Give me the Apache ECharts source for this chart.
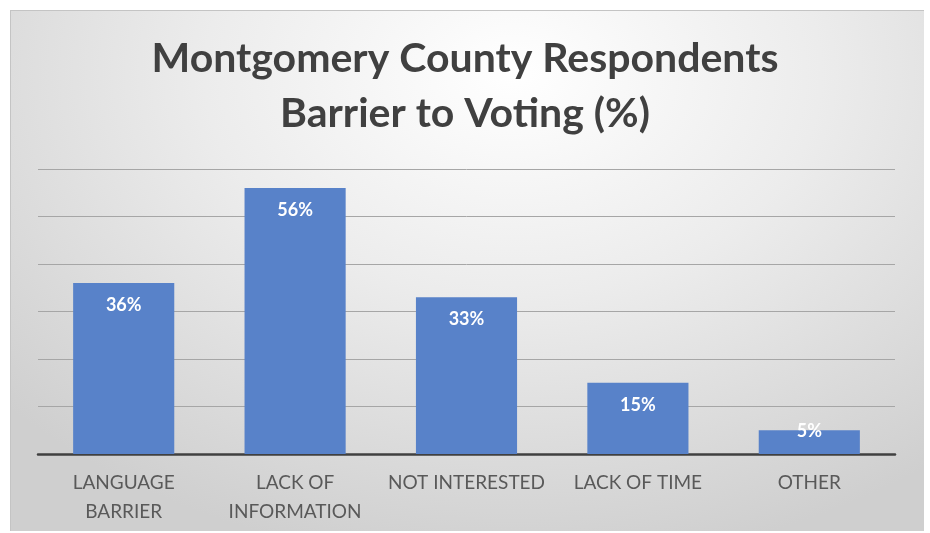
<!DOCTYPE html>
<html>
<head>
<meta charset="utf-8">
<script src="https://cdn.jsdelivr.net/npm/echarts@6/dist/echarts.min.js"></script>
<style>
html,body{margin:0;padding:0;background:#ffffff;width:930px;height:533px;overflow:hidden;}
#panel{position:absolute;left:10px;top:10px;width:913px;height:520px;
  background:radial-gradient(ellipse 75% 95% at 55% 12%, #ffffff 0%, #ececec 45%, #cfcfcf 100%);
  border-top:1px solid #c4c4c4;border-left:1px solid #c4c4c4;}
#chart{position:absolute;left:0;top:0;width:930px;height:533px;}
</style>
</head>
<body>
<div id="panel"></div>
<div id="chart"></div>
<script>
var titleLines = ['Montgomery County Respondents', 'Barrier to Voting (%)'];
var categories = ['LANGUAGE\nBARRIER', 'LACK OF\nINFORMATION', 'NOT INTERESTED', 'LACK OF TIME', 'OTHER'];
var values = [36, 56, 33, 15, 5];

var seriesData = values.map(function (v) {
  return v < 10 ? {value: v, label: {distance: -8}} : v;
});

var chart = echarts.init(document.getElementById('chart'), null, {renderer:'canvas'});
chart.setOption({
  backgroundColor: 'transparent',
  animation: false,
  title: {
    text: titleLines.join('\n'),
    left: 'center',
    top: 26,
    textStyle: {fontFamily:'Lato', fontWeight:'bold', fontSize:41, color:'#404040', lineHeight:55}
  },
  grid: {left:38, right:35, top:169, bottom:79},
  xAxis: {
    type:'category',
    data: categories,
    axisLine:{lineStyle:{color:'#404040', width:2.5}},
    axisTick:{show:false},
    axisLabel:{fontFamily:'Lato', fontSize:19, color:'#595959', lineHeight:29, margin:14, interval:0}
  },
  yAxis: {
    type:'value', min:0, max:60, interval:10,
    axisLabel:{show:false},
    axisLine:{show:false}, axisTick:{show:false},
    splitLine:{lineStyle:{color:'#a6a6a6', width:1}}
  },
  series: [{
    type:'bar',
    data: seriesData,
    barCategoryGap:'41%',
    itemStyle:{color:'#5882c9'},
    label:{show:true, position:'insideTop', distance:13, formatter:'{c}%',
      fontFamily:'Lato', fontWeight:'bold', fontSize:18, color:'#ffffff'}
  }]
});
</script>
</body>
</html>
